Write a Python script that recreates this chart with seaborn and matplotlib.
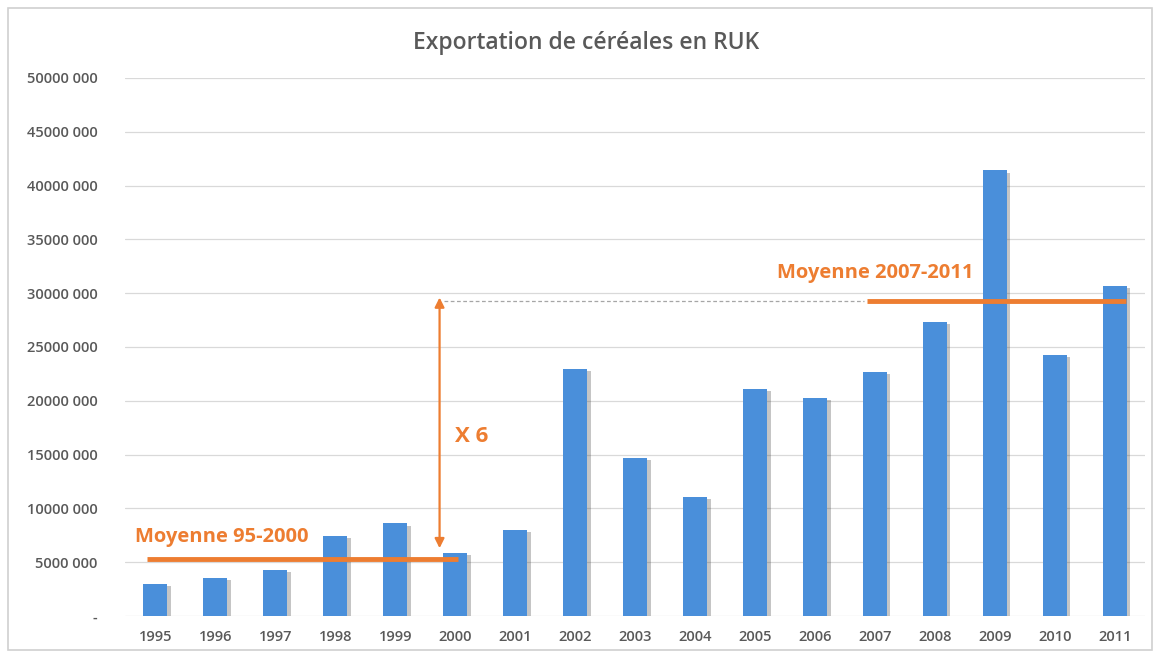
import matplotlib
matplotlib.use("Agg")
import matplotlib.pyplot as plt
import matplotlib.patheffects as pe
from matplotlib.patches import Rectangle
from matplotlib.ticker import FuncFormatter, MultipleLocator
import seaborn as sns
import pandas as pd

years = ["1995", "1996", "1997", "1998", "1999", "2000", "2001", "2002", "2003",
         "2004", "2005", "2006", "2007", "2008", "2009", "2010", "2011"]
exports = [3_000_000, 3_500_000, 4_300_000, 7_400_000, 8_600_000, 5_850_000,
           8_000_000, 23_000_000, 14_700_000, 11_050_000, 21_100_000, 20_300_000,
           22_650_000, 27_300_000, 41_400_000, 24_300_000, 30_700_000]
avg_95_2000 = 5_300_000
avg_2007_2011 = 29_300_000
title = "Exportation de céréales en RUK"
label_avg1 = "Moyenne 95-2000"
label_avg2 = "Moyenne 2007-2011"
label_ratio = "X 6"

BLUE = "#4A8FDA"
ORANGE = "#ED7D31"
TXT = "#595959"

sns.set_theme(style="white")
plt.rcParams["font.family"] = ["Open Sans", "DejaVu Sans"]

fig = plt.figure(figsize=(11.6, 6.55), dpi=100)
ax = fig.add_axes([0.108, 0.0595, 0.879, 0.8215])

df = pd.DataFrame({"year": years, "value": exports})
sns.barplot(data=df, x="year", y="value", color=BLUE, width=0.4,
            saturation=1, linewidth=0, ax=ax, zorder=3)
for p in ax.patches:
    p.set_linewidth(0)
    p.set_path_effects([pe.SimplePatchShadow(offset=(2.5, -1.5), alpha=0.3,
                                             shadow_rgbFace="#404040"),
                        pe.Normal()])

ax.set_xlim(-0.5, len(years) - 0.5)
ax.set_ylim(0, 50_000_000)
ax.yaxis.set_major_locator(MultipleLocator(5_000_000))


def fmt(v, pos):
    v = int(round(v))
    if v == 0:
        return "-"
    return f"{v // 1000}\u00a0{v % 1000:03d}"


ax.yaxis.set_major_formatter(FuncFormatter(fmt))
ax.grid(axis="y", color="#D9D9D9", lw=0.9, zorder=0)
ax.set_axisbelow(True)
for s in ax.spines.values():
    s.set_visible(False)
ax.set_xlabel("")
ax.set_ylabel("")
ax.tick_params(axis="both", length=0, labelsize=10.5, labelcolor=TXT)
ax.tick_params(axis="y", pad=20)
ax.tick_params(axis="x", pad=10)
for lbl in ax.get_xticklabels() + ax.get_yticklabels():
    lbl.set_fontweight("semibold")

fig.text(0.505, 0.935, title, ha="center", va="center", fontsize=16.5,
         color=TXT, fontweight="semibold")

# average lines
ax.plot([-0.13, 5.04], [avg_95_2000, avg_95_2000], color=ORANGE, lw=3.5,
        zorder=5, solid_capstyle="butt")
ax.plot([11.86, 16.19], [avg_2007_2011, avg_2007_2011], color=ORANGE, lw=3.5,
        zorder=5, solid_capstyle="butt")
ax.plot([4.82, 11.81], [avg_2007_2011, avg_2007_2011], color="#A6A6A6",
        lw=0.9, ls=(0, (3, 2)), zorder=4)

ax.text(-0.33, 7_300_000, label_avg1, color=ORANGE, fontsize=14.5,
        fontweight="bold", va="center", ha="left", zorder=6)
ax.text(10.37, 31_900_000, label_avg2, color=ORANGE, fontsize=14.5,
        fontweight="bold", va="center", ha="left", zorder=6)

ax.annotate("", xy=(4.74, 29_600_000), xytext=(4.74, 6_300_000),
            arrowprops=dict(arrowstyle="<|-|>", color=ORANGE, lw=1.6,
                            mutation_scale=14, shrinkA=0, shrinkB=0),
            zorder=6)
ax.text(4.99, 16_700_000, label_ratio, color=ORANGE, fontsize=16,
        fontweight="bold", va="center", ha="left", zorder=6)

fig.patches.append(Rectangle((0.007, 0.008), 0.986, 0.98,
                             transform=fig.transFigure, fill=False,
                             edgecolor="#D0D0D0", lw=1.2))

fig.savefig("out.png", dpi=100, facecolor="white")
